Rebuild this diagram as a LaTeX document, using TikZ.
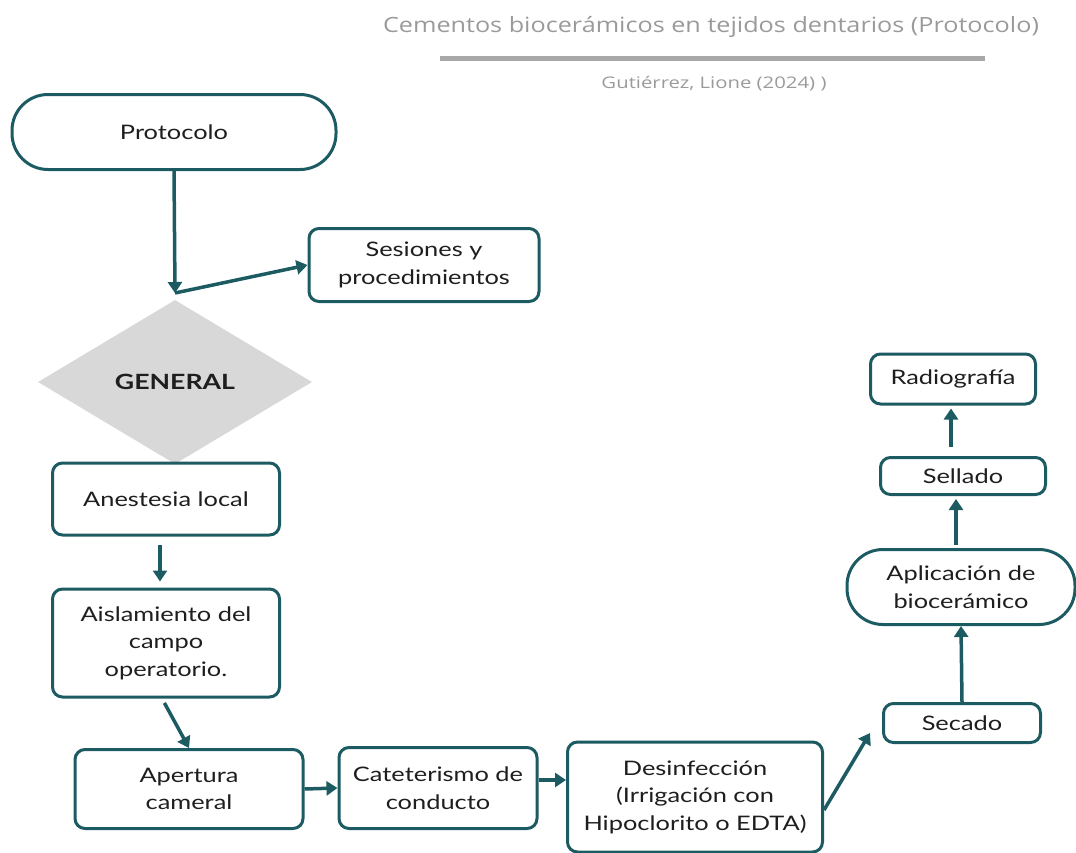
\documentclass[tikz,border=0pt]{standalone}
\usepackage{fontspec}
\setmainfont{Lato}[FakeStretch=1.27]
\newfontfamily\titlefont{Open Sans}[FakeStretch=1.2]
\newfontfamily\subfont{Open Sans}[FakeStretch=1.27]
\usetikzlibrary{arrows.meta,shapes.geometric}
\definecolor{teal1}{HTML}{1D5B63}
\definecolor{txt}{HTML}{1E1E1E}
\definecolor{gtitle}{HTML}{9A9A9A}
\definecolor{gline}{HTML}{A8A8A8}
\definecolor{dfill}{HTML}{D8D8D8}
\begin{document}
\begin{tikzpicture}[x=1pt,y=-1pt,
  box/.style={draw=teal1, line width=3pt, rounded corners=10pt, fill=white, text=txt,
    inner sep=0pt, align=center, font=\fontsize{20}{27.5}\selectfont},
  pill/.style={box, rounded corners=36pt},
  conn/.style={draw=teal1, line width=3.5pt, -{Triangle[length=11pt,width=14pt]}},
  plain/.style={draw=teal1, line width=3.5pt}
]
\useasboundingbox (0,0) rectangle (1076,852);

% title
\node[font=\titlefont\fontsize{21}{24}\selectfont, text=gtitle] (title) at (711,27) {Cementos biocerámicos en tejidos dentarios (Protocolo)};
\coordinate (tl) at (440,58);
\coordinate (tr) at (985,58);
\draw[gline, line width=5pt] (tl) -- (tr);
\node[font=\subfont\fontsize{16}{18}\selectfont, text=gtitle] (sub) at (714,84) {Gutiérrez, Lione (2024) )};

% nodes
\node[pill, minimum width=324pt, minimum height=75pt] (proto) at (174,132) {Protocolo};
\node[box, minimum width=230pt, minimum height=73pt] (ses) at (424,265) {Sesiones y\\procedimientos};
\node[diamond, fill=dfill, aspect=1.67, minimum width=274pt, minimum height=164pt, inner sep=0pt,
  font=\fontsize{21}{24}\selectfont\bfseries, text=txt] (gen) at (175,382) {GENERAL};
\node[box, minimum width=227pt, minimum height=72pt] (anes) at (166,499) {Anestesia local};
\node[box, minimum width=227pt, minimum height=108pt] (aisl) at (166,643) {Aislamiento del\\campo\\operatorio.};
\node[box, minimum width=228pt, minimum height=79pt] (aper) at (189,789) {Apertura\\cameral};
\node[box, minimum width=198pt, minimum height=81pt] (cat) at (438,788) {Cateterismo de\\conducto};
\node[box, minimum width=255pt, minimum height=110pt] (des) at (695,797) {Desinfección\\(Irrigación con\\Hipoclorito o EDTA)};
\node[box, minimum width=157pt, minimum height=39pt] (sec) at (962,723) {Secado};
\node[pill, minimum width=228pt, minimum height=75pt] (apl) at (961,587) {Aplicación de\\biocerámico};
\node[box, minimum width=165pt, minimum height=37pt] (sel) at (963,476) {Sellado};
\node[box, minimum width=165pt, minimum height=50pt] (rad) at (953,379) {Radiografía};

% connectors
\coordinate (j) at (175,293);
\draw[conn] (proto.south) -- (j);
\draw[conn] (j) -- (ses.west);
\draw[conn, shorten <=8pt, shorten >=6pt] (anes.south -| 160,0) -- (aisl.north -| 160,0);
\draw[conn, shorten <=5pt] ([xshift=-4pt]aisl.south) -- (aper.north);
\draw[conn] (aper.east) -- (cat.west);
\draw[conn] ([yshift=8pt]cat.east) -- ([yshift=8pt]cat.east -| des.west);
\coordinate (dse) at (870,733);
\draw[conn] ([yshift=-13pt]des.east) -- (dse);
\draw[conn] (sec.north) -- (apl.south);
\draw[conn, shorten <=3pt, shorten >=3pt] (apl.north -| 956,0) -- (sel.south -| 956,0);
\draw[conn, shorten <=9pt, shorten >=3pt] (sel.north -| 951,0) -- (rad.south -| 951,0);
\end{tikzpicture}
\end{document}
